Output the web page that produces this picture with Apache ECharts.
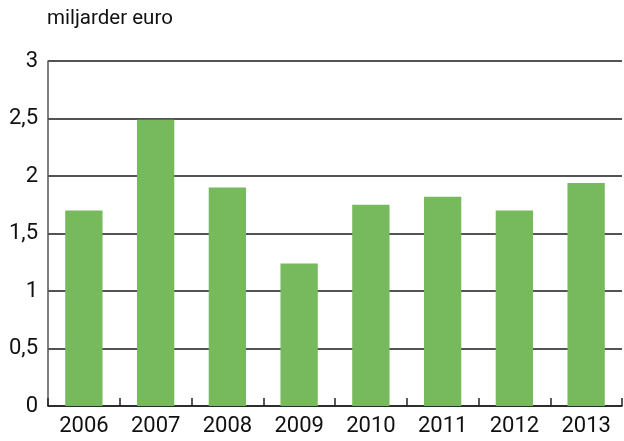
<!DOCTYPE html>
<html>
<head>
<meta charset="utf-8">
<script src="https://cdn.jsdelivr.net/npm/echarts@6/dist/echarts.min.js"></script>
<style>
  html, body { margin: 0; padding: 0; background: #fff; }
  #chart { width: 624px; height: 441px; }
</style>
</head>
<body>
<div id="chart"></div>
<script>
const years = ['2006', '2007', '2008', '2009', '2010', '2011', '2012', '2013']
const values = [1.70, 2.49, 1.90, 1.24, 1.75, 1.82, 1.70, 1.94]
const unitLabel = 'miljarder euro'

const font = 'Roboto, "Noto Sans", sans-serif'
const chart = echarts.init(document.getElementById('chart'))

chart.setOption({
  animation: false,
  grid: { left: 48, right: 2, top: 61, bottom: 35 },
  title: {
    text: unitLabel,
    left: 47,
    top: 8,
    padding: 0,
    textStyle: { fontFamily: font, fontSize: 20.5, fontWeight: 'normal', color: '#111' }
  },
  xAxis: {
    type: 'category',
    data: years,
    axisLine: { lineStyle: { color: '#222', width: 1.5 } },
    axisTick: { show: true, inside: true, length: 8, lineStyle: { color: '#222', width: 1.5 } },
    axisLabel: { fontFamily: font, fontSize: 22, color: '#111', margin: 9 }
  },
  yAxis: {
    type: 'value',
    min: 0,
    max: 3,
    interval: 0.5,
    axisLine: { show: true, lineStyle: { color: '#555', width: 1.5 } },
    axisTick: { show: false },
    splitLine: { lineStyle: { color: '#1a1a1a', width: 1.5 } },
    axisLabel: {
      fontFamily: font, fontSize: 22, color: '#111', margin: 10,
      formatter: v => String(v).replace('.', ',')
    }
  },
  series: [{
    type: 'bar',
    data: values,
    barWidth: '52%',
    itemStyle: { color: '#77b95d' }
  }]
})
</script>
</body>
</html>
